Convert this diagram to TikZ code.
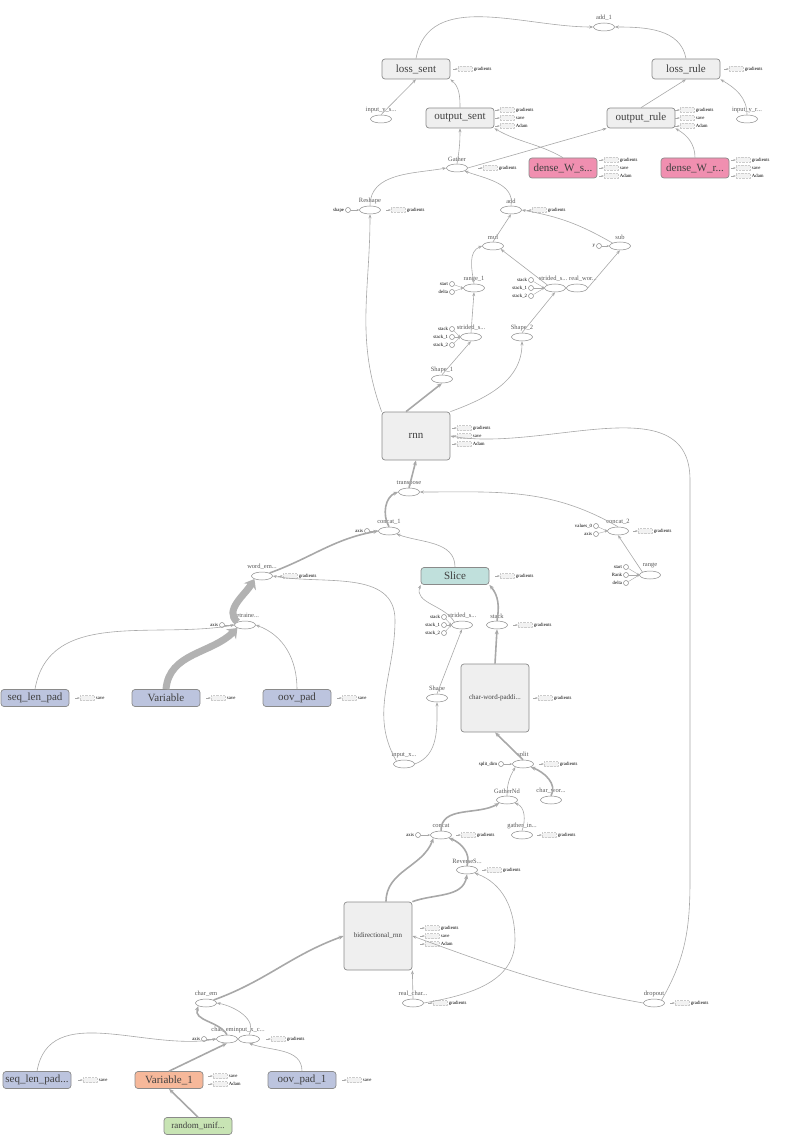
\documentclass[tikz,border=0pt]{standalone}
\usepackage{fontspec}
\setmainfont{Liberation Serif}
\usetikzlibrary{shapes.geometric,arrows.meta}
\definecolor{bg}{HTML}{EFEFEF}
\definecolor{bd}{HTML}{8A8A8A}
\definecolor{pinkf}{HTML}{F08FB0}
\definecolor{tealf}{HTML}{C0E0DC}
\definecolor{bluef}{HTML}{BCC4DE}
\definecolor{orangef}{HTML}{F6B89A}
\definecolor{greenf}{HTML}{C8E4B4}
\definecolor{ed}{HTML}{A8A8A8}
\tikzset{
  big/.style={draw=bd,fill=bg,rounded corners=3pt,line width=0.7pt,minimum width=#1,minimum height=20pt,inner sep=0,font=\fontsize{11}{11}\selectfont,text=black!75},
  big/.default=70pt,
  op/.style={draw=bd,ellipse,minimum width=21pt,minimum height=8pt,inner sep=0,line width=0.5pt,fill=white},
  oplab/.style={font=\fontsize{6.5}{6.5}\selectfont,text=black!65,inner sep=0},
  cst/.style={draw=bd,circle,minimum size=5pt,inner sep=0,line width=0.5pt,fill=white},
  cstlab/.style={font=\fontsize{4.8}{4.8}\selectfont,anchor=east,inner sep=1pt},
  auxbox/.style={draw=black!20,densely dotted,minimum width=14pt,minimum height=5pt,inner sep=0,fill=black!5},
  auxtxt/.style={font=\fontsize{4.8}{4.8}\selectfont,anchor=west,inner sep=1.5pt},
  e/.style={draw=ed,line width=0.6pt,-{Stealth[length=4pt,width=3pt]}},
  t/.style={draw=ed,line width=1.6pt,-{Stealth[length=5pt,width=4pt]}},
  tt/.style={draw=black!30,line width=7pt,-{Stealth[length=9pt,width=14pt]}},
  s/.style={draw=ed,line width=0.4pt,-{Stealth[length=2.5pt,width=2pt]}},
}
\newcommand\opn[4]{\node[op] (#1) at (#2,#3) {}; \node[oplab] at (#2,{#3-9}) {#4};}
\newcommand\auxn[4]{\node[auxbox] (#1) at (#2,#3) {}; \node[auxtxt] at (#1.east) {#4};
  \coordinate (#1s) at ({#2-12},#3); \draw[s] (#1s) -- (#1.west);}
\newcommand\cstn[4]{\node[cst] (#1) at (#2,#3) {}; \node[cstlab] at (#1.west) {#4};}
\begin{document}
\begin{tikzpicture}[x=1pt,y=-1pt]
\useasboundingbox (0,0) rectangle (800,1147);
% ---------- top ----------
\opn{add1}{604}{27}{add\_1}
\node[big=68pt,minimum height=20pt] (losss) at (416,69) {loss\_sent};
\auxn{a1}{465}{69}{gradients}
\node[big=68pt] (lossr) at (686,69) {loss\_rule};
\auxn{a2}{736}{69}{gradients}
\opn{inys}{381}{119}{input\_y\_s...}
\opn{inyr}{747}{119}{input\_y\_r...}
\node[big=68pt] (outs) at (460,118) {output\_sent};
\auxn{a3}{507}{110}{gradients}\auxn{a4}{507}{118}{save}\auxn{a5}{507}{126}{Adam}
\node[big=68pt] (outr) at (641,118) {output\_rule};
\auxn{a6}{687}{110}{gradients}\auxn{a7}{687}{118}{save}\auxn{a8}{687}{126}{Adam}
\opn{gather}{457}{168}{Gather}
\auxn{a9}{490}{168}{gradients}
\node[big=68pt,fill=pinkf] (dws) at (563,168) {dense\_W\_s...};
\auxn{a10}{611}{160}{gradients}\auxn{a11}{611}{168}{save}\auxn{a12}{611}{176}{Adam}
\node[big=68pt,fill=pinkf] (dwr) at (695,168) {dense\_W\_r...};
\auxn{a13}{743}{160}{gradients}\auxn{a14}{743}{168}{save}\auxn{a15}{743}{176}{Adam}
\opn{reshape}{370}{210}{Reshape}
\cstn{cshape}{348}{210}{shape}
\auxn{a16}{398}{210}{gradients}
\opn{add}{511}{210}{add}
\auxn{a17}{539}{210}{gradients}
\opn{mul}{493}{246}{mul}
\opn{sub}{620}{246}{sub}
\cstn{cy}{599}{246}{y}
\opn{range1}{474}{288}{range\_1}
\cstn{cst1}{452}{284}{start}\cstn{cdl1}{452}{292}{delta}
\node[op] (str1) at (555,288) {}; \node[oplab] at (553,279) {strided\_s...};
\cstn{cs1a}{531}{280}{stack}\cstn{cs1b}{531}{288}{stack\_1}\cstn{cs1c}{531}{296}{stack\_2}
\node[op] (realw) at (577,288) {}; \node[oplab] at (583,279) {real\_wor...};
\opn{str2}{471}{337}{strided\_s...}
\cstn{cs2a}{452}{329}{stack}\cstn{cs2b}{452}{337}{stack\_1}\cstn{cs2c}{452}{345}{stack\_2}
\opn{shape2}{522}{337}{Shape\_2}
\opn{shape1}{442}{379}{Shape\_1}
\node[big=68pt,minimum height=48pt] (rnn) at (416,436) {rnn};
\auxn{a18}{464}{428}{gradients}\auxn{a19}{464}{436}{save}\auxn{a20}{464}{444}{Adam}
\opn{transpose}{409}{492}{transpose}
\opn{concat1}{389}{531}{concat\_1}
\cstn{cax1}{367}{531}{axis}
\opn{concat2}{618}{531}{concat\_2}
\cstn{cv0}{596}{526}{values\_0}\cstn{cax2}{596}{534}{axis}
\auxn{a21}{645}{531}{gradients}
\opn{range}{650}{575}{range}
\cstn{crs}{626}{567}{start}\cstn{crr}{626}{575}{Rank}\cstn{crd}{626}{583}{delta}
% ---------- middle ----------
\opn{wordem}{262}{576}{word\_em...}
\auxn{a22}{290}{576}{gradients}
\node[big=68pt,minimum height=17pt,fill=tealf] (slice) at (455,576) {Slice};
\auxn{a23}{507}{576}{gradients}
\opn{pretr}{245}{625}{pretraine...}
\cstn{cax3}{222}{625}{axis}
\opn{str3}{462}{625}{strided\_s...}
\cstn{cs3a}{444}{617}{stack}\cstn{cs3b}{444}{625}{stack\_1}\cstn{cs3c}{444}{633}{stack\_2}
\opn{stack}{497}{625}{stack}
\auxn{a24}{525}{625}{gradients}
\node[big=68pt,minimum height=17pt,fill=bluef] (slp) at (35,698) {seq\_len\_pad};
\auxn{a25}{87}{698}{save}
\node[big=68pt,minimum height=17pt,fill=bluef] (var) at (166,698) {Variable};
\auxn{a26}{218}{698}{save}
\node[big=68pt,minimum height=17pt,fill=bluef] (oov) at (297,698) {oov\_pad};
\auxn{a27}{349}{698}{save}
\node[big=68pt,minimum height=68pt,font=\fontsize{7}{7}\selectfont] (cwp) at (495,698) {char-word-paddi...};
\auxn{a28}{545}{698}{gradients}
\opn{shape}{437}{698}{Shape}
\opn{inx}{404}{764}{input\_x...}
\opn{split}{523}{764}{split}
\cstn{csd}{501}{764}{split\_dim}
\auxn{a29}{551}{764}{gradients}
\opn{gnd}{507}{800}{GatherNd}
\opn{cwor}{551}{800}{char\_wor...}
\opn{concat}{441}{835}{concat}
\cstn{cax4}{418}{835}{axis}
\auxn{a30}{468}{835}{gradients}
\opn{gin}{522}{835}{gather\_in...}
\auxn{a31}{549}{835}{gradients}
\opn{rev}{467}{870}{ReverseS...}
\auxn{a32}{494}{870}{gradients}
\node[big=68pt,minimum height=68pt,font=\fontsize{7}{7}\selectfont] (birnn) at (378,936) {bidirectional\_rnn};
\auxn{a33}{432}{928}{gradients}\auxn{a34}{432}{936}{save}\auxn{a35}{432}{944}{Adam}
\opn{realc}{413}{1003}{real\_char...}
\auxn{a36}{440}{1003}{gradients}
\opn{dropout}{654}{1003}{dropout}
\auxn{a37}{682}{1003}{gradients}
% ---------- bottom ----------
\opn{charem}{206}{1003}{char\_em}
\node[op] (cein) at (227,1039) {};
\node[op] (inxc) at (249,1039) {};
\node[oplab] at (238,1030) {char\_eminput\_x\_c...};
\cstn{cax5}{204}{1039}{axis}
\auxn{a38}{278}{1039}{gradients}
\node[big=68pt,minimum height=17pt,fill=bluef] (slp1) at (37,1080) {seq\_len\_pad...};
\auxn{a39}{90}{1080}{save}
\node[big=68pt,minimum height=17pt,fill=orangef] (var1) at (169,1080) {Variable\_1};
\auxn{a40}{220}{1076}{save}\auxn{a41}{220}{1084}{Adam}
\node[big=68pt,minimum height=17pt,fill=bluef] (oov1) at (302,1080) {oov\_pad\_1};
\auxn{a42}{354}{1080}{save}
\node[big=68pt,minimum height=17pt,fill=greenf,font=\fontsize{9}{9}\selectfont] (rnd) at (198,1126) {random\_unif...};
% ---------- edges ----------
\draw[e] (losss.north) to[out=80,in=180] (add1.west);
\draw[e] (lossr.north) to[out=100,in=0] (add1.east);
\draw[e] (inys.north) -- (losss.south);
\draw[e] (outs.north) to[out=90,in=-40] (losss.south east);
\draw[e] (outr.north) -- (lossr.south);
\draw[e] (inyr.north) to[out=90,in=-30] (lossr.south east);
\draw[e] (gather.north) to[out=80,in=-90] (outs.south);
\draw[e] (gather.east) -- (outr.south west);
\draw[e] (dws.north) to[out=150,in=-30] (outs.south east);
\draw[e] (dwr.north) to[out=90,in=-30] (outr.south east);
\draw[e] (reshape.north) to[out=90,in=190] (gather.west);
\draw[e] (add.north) to[out=80,in=-20] (gather.south east);
\draw[e] (mul.north) -- (add.south);
\draw[e] (sub.north west) to[out=150,in=-10] (add.east);
\draw[e] (range1.north) to[out=100,in=200] (mul.west);
\draw[e] (str1.north west) -- (mul.south east);
\draw[e] (realw.east) -- (sub.south);
\draw[e] (str2.north) -- (range1.south);
\draw[e] (shape2.north) -- (str1.south);
\draw[e] (shape1.north) -- (str2.south);
\draw[e] (rnn.north west) to[out=110,in=-90] (reshape.south);
\draw[t] (rnn.north) ++(-10,0) -- (shape1.south);
\draw[e] (rnn.north east) to[out=20,in=-90] (shape2.south);
\draw[t] (transpose.north) -- (rnn.south);
\draw[t] (concat1.north) to[out=120,in=200] (transpose.west);
\draw[e] (concat2.north) to[out=150,in=0] (transpose.east);
\draw[e] (range.north west) -- (concat2.south);
\draw[t] (wordem.north east) to[out=20,in=190] (concat1.west);
\draw[e] (slice.north) to[out=90,in=-20] (concat1.south east);
\draw[e] (dropout.north east) to[out=60,in=-90] (690,880) -- (690,480) to[out=90,in=-10] (rnn.east);
\draw[tt] (pretr.north west) to[out=140,in=-120] (wordem.south west);
\draw[e] (inx.north west) to[out=120,in=-90] (395,620) to[out=90,in=-10] (wordem.east);
\draw[e] (slp.north) to[out=80,in=190] (pretr.west);
\draw[tt] (var.north) to[out=85,in=-135] (pretr.south west);
\draw[e] (oov.north) to[out=90,in=-20] (pretr.east);
\draw[e] (str3.north west) to[out=120,in=-110] (slice.south west);
\draw[t] (stack.north) to[out=80,in=-50] (slice.south east);
\draw[e] (shape.north) -- (str3.south);
\draw[e] (inx.east) to[out=20,in=-90] (shape.south);
\draw[t] (cwp.north) -- (stack.south);
\draw[t] (split.north) -- (cwp.south);
\draw[e] (gnd.north) to[out=90,in=-120] (split.south west);
\draw[t] (cwor.north) to[out=60,in=-20] (split.south east);
\draw[t] (concat.north) to[out=90,in=-150] (gnd.south west);
\draw[e] (gin.north) to[out=70,in=-20] (gnd.south east);
\draw[t] (birnn.north) ++(8,0) to[out=90,in=-110] (concat.south west);
\draw[t] (rev.north) to[out=70,in=-20] (concat.south east);
\draw[t] (birnn.north east) to[out=20,in=-100] (rev.south);
\draw[e] (realc.east) to[out=10,in=-90] (515,940) to[out=90,in=-20] (rev.south east);
\draw[e] (realc.north) -- (birnn.south east);
\draw[e] (dropout.west) to[out=170,in=-20] (birnn.east);
\draw[t] (charem.north east) to[out=20,in=200] (birnn.west);
\draw[t] (cein.north) to[out=120,in=-110] (charem.south west);
\draw[e] (inxc.north) to[out=60,in=-10] (charem.east);
\draw[e] (slp1.north) to[out=80,in=190] (cein.west);
\draw[t] (var1.north) -- (cein.south);
\draw[e] (oov1.north) to[out=90,in=-20] (inxc.south);
\draw[t] (rnd.north) -- (var1.south);
% const arrows
\foreach \c/\o in {cshape/reshape,cy/sub,cst1/range1,cdl1/range1,cs1a/str1,cs1b/str1,cs1c/str1,cs2a/str2,cs2b/str2,cs2c/str2,cax1/concat1,cv0/concat2,cax2/concat2,crs/range,crr/range,crd/range,cax3/pretr,cs3a/str3,cs3b/str3,cs3c/str3,csd/split,cax4/concat,cax5/cein}
  \draw[s] (\c) -- (\o.west);
\end{tikzpicture}
\end{document}
